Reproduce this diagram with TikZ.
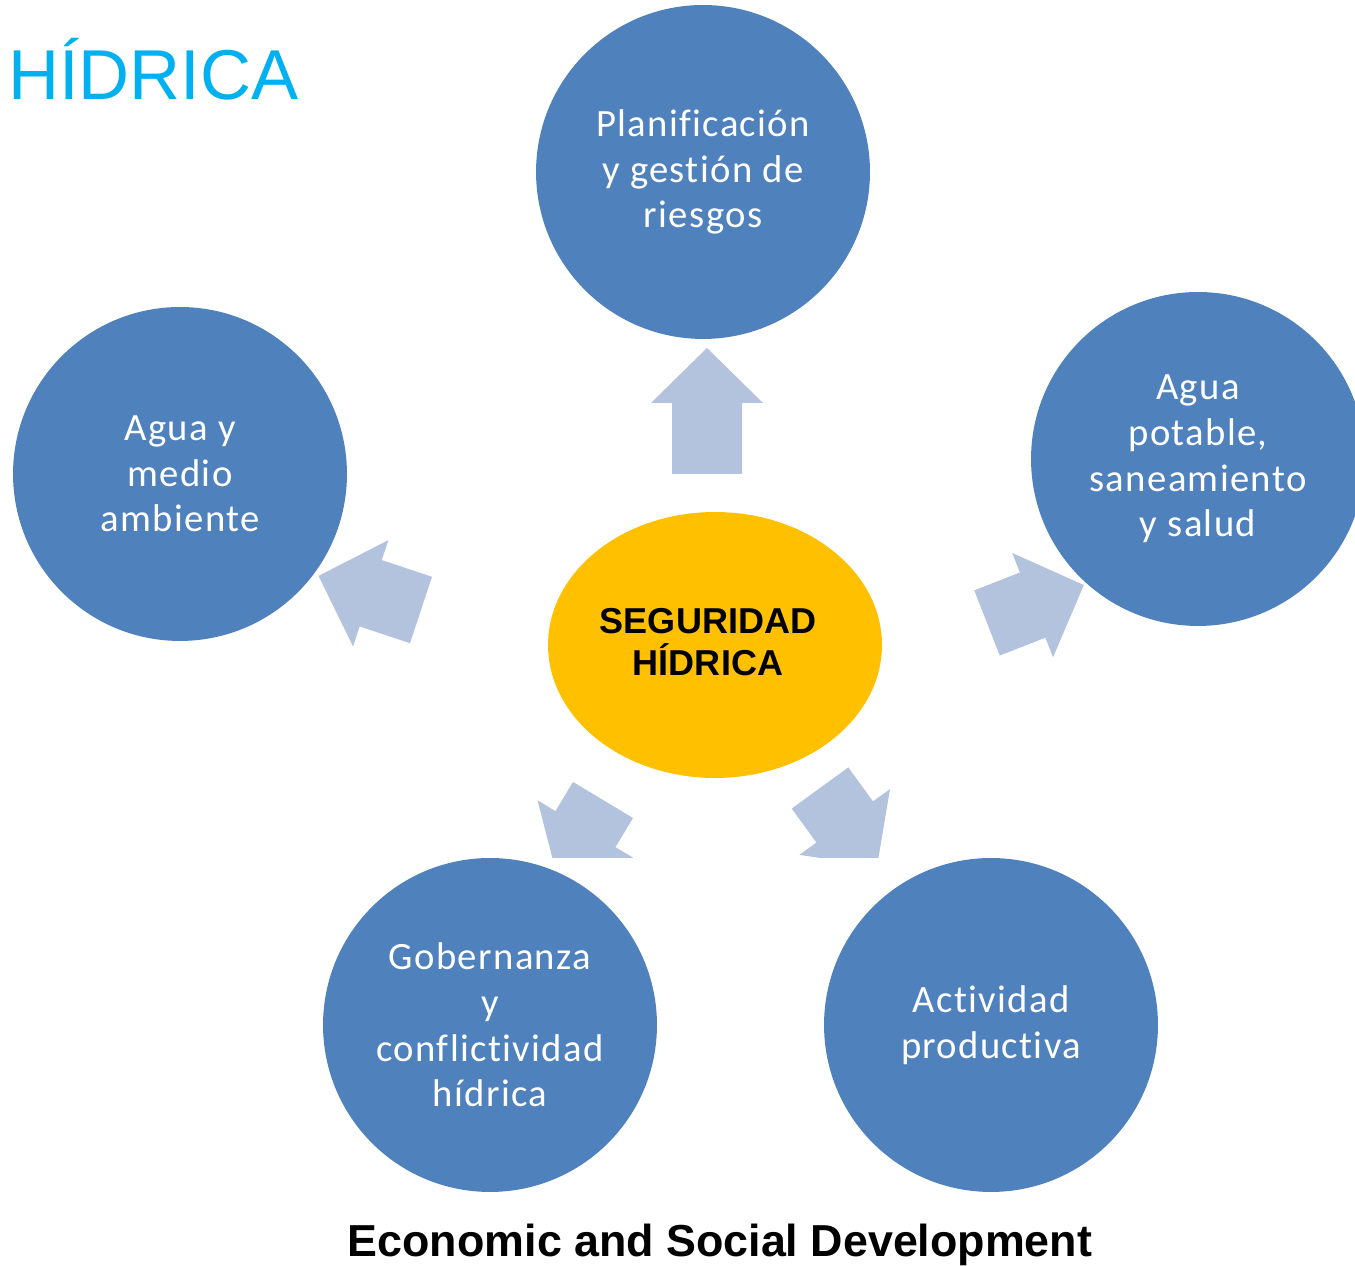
\documentclass[tikz,border=0pt]{standalone}
\usepackage{fontspec}
\setmainfont{Carlito}
\newfontfamily\themefont{Carlito}[Ligatures=NoCommon, LetterSpace=3.5]
\newfontfamily\arialfont{Liberation Sans}
\usepackage{tikz}
\usetikzlibrary{shapes.geometric,positioning}
\definecolor{HidroBlue}{HTML}{4F81BD}
\definecolor{HidroGold}{HTML}{FFC000}
\definecolor{HidroArrow}{HTML}{B3C3DE}
\definecolor{HidroTitle}{HTML}{00B0F0}

\tikzset{
  theme/.style={circle, fill=HidroBlue, minimum size=6.68cm, inner sep=0pt,
    align=center, text=white, font=\themefont\fontsize{22}{26}\selectfont},
  core/.style={ellipse, fill=HidroGold, minimum width=6.68cm, minimum height=5.32cm,
    inner sep=0pt, align=center, font=\arialfont\bfseries\fontsize{20.5}{24}\selectfont},
  flow/.style={fill=HidroArrow}
}

\begin{document}
\begin{tikzpicture}[x=0.02cm, y=0.02cm]
    \useasboundingbox (0,0) rectangle (1355,1266);
    \clip (0,0) rectangle (1355,1266);

    % block arrows: tail x / tail y / angle / shaft length
    \begin{scope}
        \clip (0,408) rectangle (1355,1266);
        \foreach \x/\y/\a/\s in {707/792/90/71, 421/656/161.6/53, 987/643/21.4/49, 603/466/-121/34, 820/478/-54/42}
            \fill[flow, shift={(\x,\y)}, rotate=\a] (0,-35) -- (\s,-35) -- (\s,-56) -- (\s+55,0) -- (\s,56) -- (\s,35) -- (0,35) -- cycle;
    \end{scope}

    \node[core] (seguridad) at (715,621) {};
    \node[align=center, font=\arialfont\bfseries\fontsize{20.5}{24}\selectfont, inner sep=0pt] (lema) at (708,624) {SEGURIDAD\\HÍDRICA};

    \node[theme] (riesgos) at (703,1094) {Planificación\\y gestión de\\riesgos};
    \node[theme] (ambiente) at (180,792) {Agua y\\medio\\ambiente};
    \node[theme] (salud) at (1198,807) {Agua\\potable,\\saneamiento\\y salud};
    \node[theme] (gobernanza) at (490,241) {Gobernanza\\y\\conflictividad\\hídrica};
    \node[theme] (productiva) at (991,241) {Actividad\\productiva};

    \node[anchor=base west, text=HidroTitle, font=\arialfont\fontsize{40.2}{48}\selectfont, inner sep=0pt] (titulo) at (8,1166) {HÍDRICA};
    \node[anchor=base, font=\arialfont\bfseries\fontsize{25.5}{30}\selectfont, inner sep=0pt] (pie) at (720,9) {Economic and Social Development};
\end{tikzpicture}
\end{document}
